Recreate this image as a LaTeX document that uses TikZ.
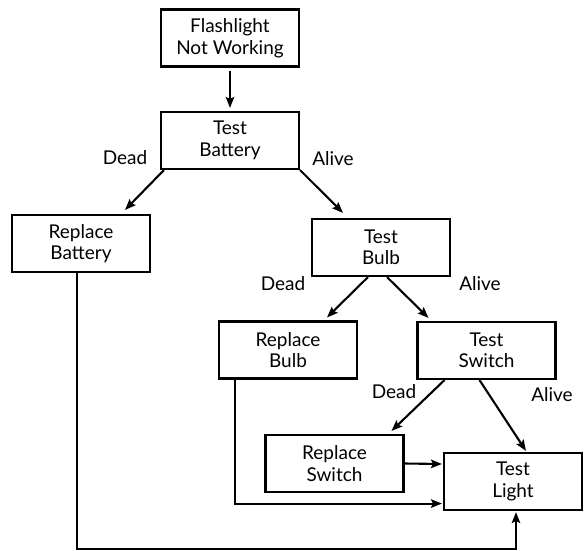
\documentclass[tikz,border=0pt]{standalone}
\usepackage{fontspec}
\setmainfont{Lato}
\usetikzlibrary{arrows.meta,calc}

\tikzset{
  box/.style={draw=black, line width=2.1pt, minimum width=138pt, minimum height=57pt,
    inner sep=0pt, align=center, font=\fontsize{19}{21.5}\selectfont},
  lbl/.style={font=\fontsize{19}{21.5}\selectfont, inner sep=0pt},
  link/.style={line width=2.1pt, -{Stealth[length=11pt,width=8.5pt,inset=2pt]}}
}

\begin{document}
\begin{tikzpicture}[x=1pt,y=-1pt]
  \useasboundingbox (0,0) rectangle (584,550);

  % boxes
  \node[box] (flash)  at (230,38)    {Flashlight\\Not Working};
  \node[box] (tbatt)  at (230,140.5) {Test\\Battery};
  \node[box] (rbatt)  at (81,243.5)  {Replace\\Battery};
  \node[box] (tbulb)  at (381,247.5) {Test\\Bulb};
  \node[box] (rbulb)  at (288,350)   {Replace\\Bulb};
  \node[box] (tswitch) at (486.5,350.5) {Test\\Switch};
  \node[box] (rswitch) at (334.5,463.5) {Replace\\Switch};
  \node[box] (tlight) at (513,481.5) {Test\\Light};

  % branch labels
  \node[lbl] at (125,158) {Dead};
  \node[lbl] at (333,159) {Alive};
  \node[lbl] at (283,284) {Dead};
  \node[lbl] at (480,284) {Alive};
  \node[lbl] at (394,392) {Dead};
  \node[lbl] at (552,395) {Alive};

  % arrows
  \draw[link] ($(flash.south)+(0,3)$) -- ($(tbatt.north)+(0,-3)$);
  \draw[link] ($(tbatt.south west)+(4,0)$) -- ($(rbatt.north)+(44,-4)$);
  \draw[link] (tbatt.south east) -- ($(tbulb.north)+(-38,-5)$);
  \draw[link] ($(tbulb.south)+(-13,0)$) -- ($(rbulb.north)+(39,-3)$);
  \draw[link] ($(tbulb.south)+(6,0)$) -- ($(tswitch.north)+(-58,-3)$);
  \draw[link] ($(tswitch.south)+(-42,0)$) -- ($(rswitch.north)+(57,-3)$);
  \draw[link] ($(tswitch.south)+(-7,0)$) -- ($(tlight.north)+(13,-1)$);
  \draw[link] (rswitch.east) -- ($(tlight.west)+(-1,-17.5)$);

  % return paths into Test Light
  \coordinate (bulbturn) at ($(rbulb.south)+(-53,124)$);
  \draw[link] ($(rbulb.south)+(-53,0)$) -- (bulbturn) -- ($(bulbturn -| tlight.west)+(-1,0)$);
  \coordinate (battturn) at ($(rbatt.south)+(-4,276)$);
  \coordinate (battend) at ($(battturn)+(439,0)$);
  \draw[link] ($(rbatt.south)+(-4,0)$) -- (battturn) -- (battend) -- ($(battend |- tlight.south)+(0,1)$);
\end{tikzpicture}
\end{document}
